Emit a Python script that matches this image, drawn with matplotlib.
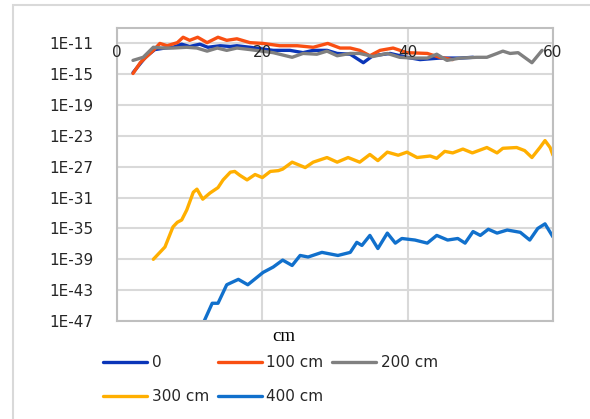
import numpy as np
import matplotlib
matplotlib.use("Agg")
import matplotlib.pyplot as plt
from matplotlib.ticker import FixedLocator, NullLocator
from matplotlib.patches import Rectangle

# distance (cm) and log10 of the signal for each source position
x_0 = [2.2, 3.9, 5.2, 6.6, 7.7, 8.9, 10.0, 11.4, 12.5, 14.2, 15.6, 16.5, 18.3, 21.5, 23.8,
       25.6, 27.0, 28.9, 30.3, 32.1, 33.9, 35.2, 37.6, 39.9, 41.7, 44.4, 47.2, 49.0]
e_0 = [-14.8, -12.8, -11.8, -11.6, -11.5, -11.1, -11.4, -11.1, -11.5, -11.3, -11.4, -11.3, -11.5, -11.9, -11.9,
       -12.2, -11.9, -11.9, -12.3, -12.4, -13.5, -12.6, -12.3, -12.8, -13.1, -12.9, -12.9, -12.8]

x_100 = [2.2, 3.2, 5.0, 5.9, 6.9, 8.3, 9.1, 10.0, 11.1, 12.4, 13.9, 15.1, 16.5, 18.3, 20.1,
         22.4, 24.8, 27.0, 29.0, 30.7, 32.1, 33.4, 34.8, 36.2, 38.0, 39.9, 42.7, 44.4, 46.2]
e_100 = [-14.9, -13.5, -11.9, -11.0, -11.3, -10.9, -10.2, -10.6, -10.2, -10.9, -10.2, -10.6, -10.4, -10.9, -11.0,
         -11.3, -11.3, -11.5, -11.0, -11.6, -11.6, -11.9, -12.6, -11.9, -11.6, -12.2, -12.3, -12.8, -13.1]

x_200 = [2.2, 3.6, 5.0, 6.3, 7.7, 9.6, 11.0, 12.4, 13.8, 15.1, 16.5, 18.3, 21.5, 24.1, 25.6, 27.5,
         28.9, 30.3, 32.1, 33.4, 35.2, 37.2, 38.9, 40.7, 42.7, 44.0, 45.4, 47.2, 49.5, 50.9, 52.3,
         53.1, 54.1, 55.2, 57.1, 58.5]
e_200 = [-13.2, -12.8, -11.5, -11.6, -11.6, -11.5, -11.6, -12.0, -11.6, -11.9, -11.6, -11.8, -12.2, -12.8, -12.3, -12.4,
         -12.0, -12.6, -12.3, -12.3, -12.7, -12.3, -12.8, -12.9, -12.9, -12.4, -13.2, -12.9, -12.8, -12.8, -12.3,
         -12.0, -12.3, -12.2, -13.5, -11.9]

x_300 = [5.0, 6.6, 7.7, 8.3, 8.9, 9.6, 10.5, 11.0, 11.8, 12.8, 13.9, 14.6, 15.6, 16.2, 16.9, 17.9,
         19.0, 20.0, 21.1, 22.2, 22.8, 24.1, 25.9, 27.0, 28.9, 30.3, 31.8, 33.4, 34.8, 35.9, 37.2,
         38.7, 39.9, 41.3, 43.1, 44.0, 45.1, 46.2, 47.6, 48.9, 50.9, 52.3, 53.1, 55.0, 56.1, 57.1,
         58.2, 58.9, 59.6, 60.0]
e_300 = [-39.0, -37.4, -34.8, -34.2, -33.9, -32.6, -30.3, -29.9, -31.2, -30.4, -29.7, -28.7, -27.7, -27.6, -28.1, -28.7,
         -28.0, -28.4, -27.6, -27.5, -27.3, -26.4, -27.1, -26.4, -25.8, -26.4, -25.8, -26.4, -25.4, -26.2, -25.1,
         -25.5, -25.1, -25.8, -25.6, -25.9, -25.0, -25.2, -24.7, -25.2, -24.5, -25.2, -24.6, -24.5, -24.9, -25.8,
         -24.5, -23.6, -24.5, -25.5]

x_400 = [12.0, 13.1, 13.9, 15.1, 16.7, 18.0, 20.1, 21.5, 22.8, 24.1, 25.2, 26.3, 28.2, 30.4, 32.1,
         33.0, 33.7, 34.8, 35.9, 37.2, 38.3, 39.2, 41.0, 42.7, 44.0, 45.5, 46.9, 47.9, 49.0, 50.0,
         51.1, 52.3, 53.7, 55.5, 56.8, 57.9, 58.9, 60.0]
e_400 = [-47.0, -44.7, -44.7, -42.3, -41.6, -42.3, -40.7, -40.0, -39.1, -39.8, -38.5, -38.7, -38.1, -38.5, -38.1,
         -36.8, -37.2, -35.9, -37.6, -35.6, -36.9, -36.3, -36.5, -36.9, -35.9, -36.5, -36.3, -36.9, -35.4, -35.9,
         -35.1, -35.6, -35.2, -35.5, -36.5, -35.0, -34.4, -36.1]

labels = ["0", "100 cm", "200 cm", "300 cm", "400 cm"]
colors = ["#0A35B8", "#F94F12", "#808080", "#FFAF00", "#1170CC"]
x_ticks = [0, 20, 40, 60]
y_exps = [-11, -15, -19, -23, -27, -31, -35, -39, -43, -47]

series = [(x_0, e_0), (x_100, e_100), (x_200, e_200), (x_300, e_300), (x_400, e_400)]

fig = plt.figure(figsize=(5.9, 4.19), dpi=100)
ax = fig.add_axes([117 / 590, 1 - 321 / 419, (553 - 117) / 590, (321 - 28) / 419])

# outer chart border
fig.patches.append(Rectangle((13 / 590, -0.05), 1.1, 0.05 + 1 - 5 / 419, transform=fig.transFigure,
                             fill=False, edgecolor="#D9D9D9", linewidth=1.5))

lines = []
for (xs, es), lab, c in zip(series, labels, colors):
    ln, = ax.plot(xs, 10.0 ** np.array(es), color=c, lw=2.4, label=lab,
                  solid_joinstyle="round", solid_capstyle="round")
    lines.append(ln)

ax.set_yscale("log")
ax.set_ylim(1e-47, 1e-9)
ax.set_xlim(0, 60)
ax.yaxis.set_major_locator(FixedLocator([10.0 ** e for e in y_exps]))
ax.yaxis.set_minor_locator(NullLocator())
ax.set_yticklabels(["1E%d" % e for e in y_exps])
ax.set_xticks(x_ticks)
ax.tick_params(length=0, labelbottom=False, labelsize=11, labelcolor="#262626", pad=17)
ax.grid(True, color="#D9D9D9", lw=1.5)
ax.set_axisbelow(True)
for s in ax.spines.values():
    s.set_color("#BFBFBF")
    s.set_linewidth(1.5)

# horizontal axis labels sit near the top of the plot area
for t in x_ticks:
    ax.text(t, 10.0 ** -12.2, str(t), ha="center", va="center", fontsize=11, color="#262626",
            clip_on=False, zorder=5)

fig.text(284 / 590, 1 - 336 / 419, "cm", ha="center", va="center", fontsize=13.5,
         family="Liberation Serif", color="#000000")

order = [0, 3, 1, 4, 2]
fig.legend([lines[i] for i in order], [labels[i] for i in order], ncol=3, frameon=False,
           loc="upper left", bbox_to_anchor=(103 / 590, 1 - 355 / 419), fontsize=11,
           handlelength=2.9, handletextpad=0.3, columnspacing=0.55, labelspacing=1.25,
           borderpad=0, borderaxespad=0, labelcolor="#262626")

fig.savefig("out.png", dpi=100)
